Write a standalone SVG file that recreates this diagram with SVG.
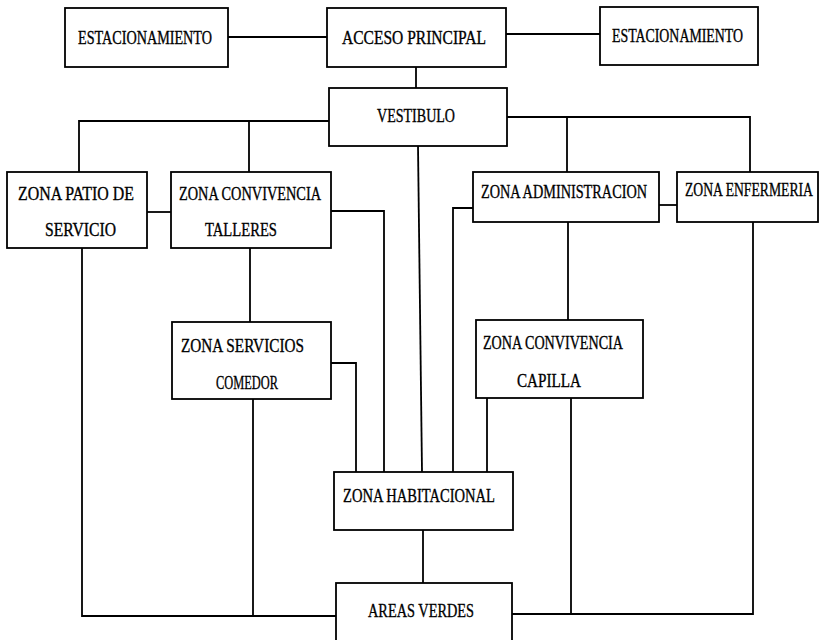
<svg xmlns="http://www.w3.org/2000/svg" width="820" height="640" viewBox="0 0 820 640">
<style>
.box{fill:#fff;stroke:#000;stroke-width:1.8}
.ln{fill:none;stroke:#000;stroke-width:1.8}
text{font-family:"Liberation Serif","DejaVu Serif",serif;font-size:14px;fill:#000;stroke:#000;stroke-width:0.25}
</style>
<rect width="820" height="640" fill="#fff"/>
<g id="connectors">
<path class="ln" d="M228 37H327"/>
<path class="ln" d="M506 34H600"/>
<path class="ln" d="M416 67V88"/>
<path class="ln" d="M329 121H79V172M249 121V172"/>
<path class="ln" d="M507 117H750V172M567 117V172"/>
<path class="ln" d="M418 146L422 472"/>
<path class="ln" d="M147 212H171"/>
<path class="ln" d="M331 211H384V472"/>
<path class="ln" d="M659 205H677"/>
<path class="ln" d="M473 208H453V472"/>
<path class="ln" d="M250 248V322"/>
<path class="ln" d="M568 222V320"/>
<path class="ln" d="M331 363H356V472"/>
<path class="ln" d="M487 398V472"/>
<path class="ln" d="M82 248V616H336"/>
<path class="ln" d="M253 399V616"/>
<path class="ln" d="M571 398V614"/>
<path class="ln" d="M753 222V614H512"/>
<path class="ln" d="M423 530V583"/>
</g>
<g id="estacionamiento-izq">
<rect class="box" x="65" y="8" width="163" height="59"/>
<text transform="translate(78 44) scale(1 1.4)" textLength="134" lengthAdjust="spacingAndGlyphs">ESTACIONAMIENTO</text>
</g>
<g id="acceso-principal">
<rect class="box" x="327" y="8" width="179" height="59"/>
<text transform="translate(342 44) scale(1 1.4)" textLength="144" lengthAdjust="spacingAndGlyphs">ACCESO PRINCIPAL</text>
</g>
<g id="estacionamiento-der">
<rect class="box" x="600" y="7" width="158" height="58"/>
<text transform="translate(612 42) scale(1 1.4)" textLength="131" lengthAdjust="spacingAndGlyphs">ESTACIONAMIENTO</text>
</g>
<g id="vestibulo">
<rect class="box" x="329" y="88" width="178" height="58"/>
<text transform="translate(377 122) scale(1 1.4)" textLength="78" lengthAdjust="spacingAndGlyphs">VESTIBULO</text>
</g>
<g id="zona-patio">
<rect class="box" x="7" y="172" width="140" height="76"/>
<text transform="translate(18 200) scale(1 1.4)" textLength="116" lengthAdjust="spacingAndGlyphs">ZONA PATIO DE</text>
<text transform="translate(45 236) scale(1 1.4)" textLength="71" lengthAdjust="spacingAndGlyphs">SERVICIO</text>
</g>
<g id="zona-talleres">
<rect class="box" x="171" y="172" width="160" height="76"/>
<text transform="translate(179 200) scale(1 1.4)" textLength="142" lengthAdjust="spacingAndGlyphs">ZONA CONVIVENCIA</text>
<text transform="translate(205 236) scale(1 1.4)" textLength="72" lengthAdjust="spacingAndGlyphs">TALLERES</text>
</g>
<g id="zona-administracion">
<rect class="box" x="473" y="172" width="186" height="50"/>
<text transform="translate(481 198) scale(1 1.4)" textLength="166" lengthAdjust="spacingAndGlyphs">ZONA ADMINISTRACION</text>
</g>
<g id="zona-enfermeria">
<rect class="box" x="677" y="172" width="141" height="50"/>
<text transform="translate(685 196) scale(1 1.4)" textLength="128" lengthAdjust="spacingAndGlyphs">ZONA ENFERMERIA</text>
</g>
<g id="zona-comedor">
<rect class="box" x="172" y="322" width="159" height="77"/>
<text transform="translate(181 352) scale(1 1.4)" textLength="123" lengthAdjust="spacingAndGlyphs">ZONA SERVICIOS</text>
<text transform="translate(216 389) scale(1 1.4)" textLength="62" lengthAdjust="spacingAndGlyphs">COMEDOR</text>
</g>
<g id="zona-capilla">
<rect class="box" x="476" y="320" width="167" height="78"/>
<text transform="translate(483 349) scale(1 1.4)" textLength="140" lengthAdjust="spacingAndGlyphs">ZONA CONVIVENCIA</text>
<text transform="translate(517 387) scale(1 1.4)" textLength="64" lengthAdjust="spacingAndGlyphs">CAPILLA</text>
</g>
<g id="zona-habitacional">
<rect class="box" x="334" y="472" width="179" height="58"/>
<text transform="translate(343 502) scale(1 1.4)" textLength="152" lengthAdjust="spacingAndGlyphs">ZONA HABITACIONAL</text>
</g>
<g id="areas-verdes">
<rect class="box" x="336" y="583" width="176" height="70"/>
<text transform="translate(368 617) scale(1 1.4)" textLength="106" lengthAdjust="spacingAndGlyphs">AREAS VERDES</text>
</g>
</svg>
